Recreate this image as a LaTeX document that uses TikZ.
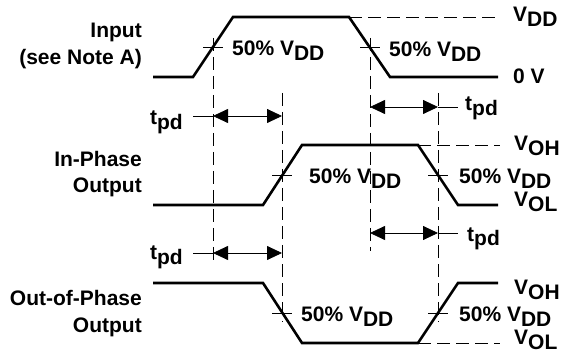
\documentclass[tikz,border=0pt]{standalone}
\usepackage{fontspec}
\setmainfont{Liberation Sans}
\usetikzlibrary{arrows.meta}
\newcommand{\sbs}[1]{\raisebox{-5pt}{#1}}
\begin{document}
\begin{tikzpicture}[x=1pt,y=-1pt,
  wave/.style={line width=2.6pt, line join=miter},
  guide/.style={line width=0.8pt, dash pattern=on 13pt off 6pt},
  tickmark/.style={line width=0.8pt},
  dimline/.style={line width=0.8pt, {Triangle[length=15pt,width=14pt]}-{Triangle[length=15pt,width=14pt]}},
  lbl/.style={font=\bfseries\fontsize{21}{25}\selectfont, inner sep=0pt},
]
\useasboundingbox (0,0) rectangle (561,352);

% ---------- waveform corner coordinates
% Input
\coordinate (a0) at (153,77); \coordinate (a1) at (193,77);
\coordinate (a2) at (233,17); \coordinate (a3) at (349,17);
\coordinate (a4) at (390,77); \coordinate (a5) at (498,77);
\coordinate (aD) at (500,17);
% In-phase
\coordinate (b0) at (153,205); \coordinate (b1) at (263,205);
\coordinate (b2) at (302,145); \coordinate (b3) at (418,145);
\coordinate (b4) at (458,205); \coordinate (b5) at (498,205);
\coordinate (bD) at (500,145);
% Out-of-phase
\coordinate (c0) at (153,283); \coordinate (c1) at (263,283);
\coordinate (c2) at (302,343); \coordinate (c3) at (418,343);
\coordinate (c4) at (458,283); \coordinate (c5) at (498,283);
\coordinate (cD) at (500,343);

\draw[wave] (a0) -- (a1) -- (a2) -- (a3) -- (a4) -- (a5);
\draw[wave] (b0) -- (b1) -- (b2) -- (b3) -- (b4) -- (b5);
\draw[wave] (c0) -- (c1) -- (c2) -- (c3) -- (c4) -- (c5);

\draw[guide] (a3) -- (aD);
\draw[guide] (b3) -- (bD);
\draw[guide] (c3) -- (cD);

% ---------- vertical reference lines
\coordinate (v1t) at (213,38);  \coordinate (v1b) at (213,263);
\coordinate (v2t) at (370,38);  \coordinate (v2b) at (370,251);
\coordinate (v3t) at (282,93);  \coordinate (v3b) at (282,322);
\coordinate (v4t) at (438,93);  \coordinate (v4b) at (438,322);
\draw[guide] (v1t) -- (v1b);
\draw[guide] (v2t) -- (v2b);
\draw[guide] (v3t) -- (v3b);
\draw[guide] (v4t) -- (v4b);

% ---------- 50% tick marks
\foreach \px/\py in {213/47, 370/47, 282/175, 438/175, 282/313, 438/313}
  \draw[tickmark] (\px-10,\py) -- (\px+10,\py);

% ---------- propagation-delay dimensions
\coordinate (d1l) at (213,116); \coordinate (d1r) at (282,116); \coordinate (d1e) at (193,116);
\coordinate (d2l) at (370,107); \coordinate (d2r) at (438,107); \coordinate (d2e) at (458,107);
\coordinate (d3l) at (370,233); \coordinate (d3r) at (438,233); \coordinate (d3e) at (458,233);
\coordinate (d4l) at (213,253); \coordinate (d4r) at (282,253); \coordinate (d4e) at (193,253);
\draw[dimline] (d1l) -- (d1r); \draw[tickmark] (d1e) -- (d1l);
\draw[dimline] (d2l) -- (d2r); \draw[tickmark] (d2r) -- (d2e);
\draw[dimline] (d3l) -- (d3r); \draw[tickmark] (d3r) -- (d3e);
\draw[dimline] (d4l) -- (d4r); \draw[tickmark] (d4e) -- (d4l);

\node[lbl, anchor=base east] (t1) at (183,125) {t\sbs{pd}};
\node[lbl, anchor=base west] (t2) at (465,111) {t\sbs{pd}};
\node[lbl, anchor=base west] (t3) at (467,241) {t\sbs{pd}};
\node[lbl, anchor=base east] (t4) at (183,259) {t\sbs{pd}};

% ---------- signal names
\node[lbl, anchor=base east] (n1) at (142,38) {Input};
\node[lbl, anchor=base east] (n2) at (142,65) {(see Note A)};
\node[lbl, anchor=base east] (n3) at (142,167) {In-Phase};
\node[lbl, anchor=base east] (n4) at (142,193) {Output};
\node[lbl, anchor=base east] (n5) at (142,305) {Out-of-Phase};
\node[lbl, anchor=base east] (n6) at (142,332) {Output};

% ---------- level labels
\node[lbl, anchor=base west] (l1) at (513,22) {V\sbs{DD}};
\node[lbl, anchor=base west] (l2) at (513,84) {0 V};
\node[lbl, anchor=base west] (l3) at (514,151) {V\sbs{OH}};
\node[lbl, anchor=base west] (l4) at (514,207) {V\sbs{OL}};
\node[lbl, anchor=base west] (l5) at (514,294) {V\sbs{OH}};
\node[lbl, anchor=base west] (l6) at (514,344) {V\sbs{OL}};

% ---------- 50% labels
\node[lbl, anchor=base west] (p1) at (232,56) {50\% V\sbs{DD}};
\node[lbl, anchor=base west] (p2) at (389,57) {50\% V\sbs{DD}};
\node[lbl, anchor=base west] (p3) at (309,184) {50\% V\sbs{DD}};
\node[lbl, anchor=base west] (p4) at (459,184) {50\% V\sbs{DD}};
\node[lbl, anchor=base west] (p5) at (301,321) {50\% V\sbs{DD}};
\node[lbl, anchor=base west] (p6) at (459,321) {50\% V\sbs{DD}};
\end{tikzpicture}
\end{document}
